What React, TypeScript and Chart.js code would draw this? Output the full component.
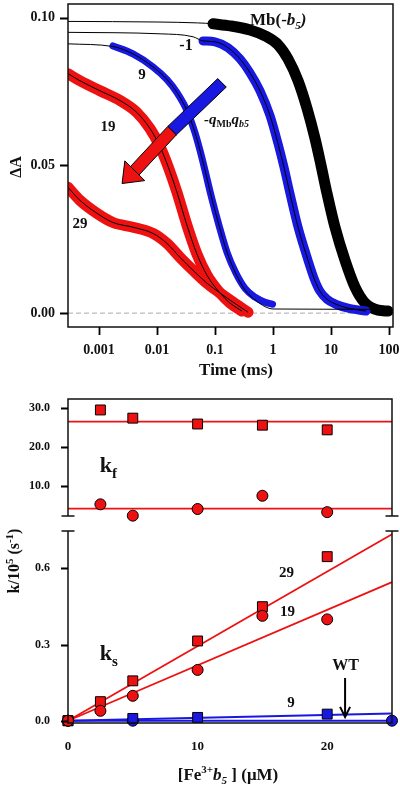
import React, { useEffect, useRef } from "react";
import { Chart, registerables } from "chart.js";
Chart.register(...registerables);

const SERIF = '"Liberation Serif", "Times New Roman", Times, serif';
const INK = "#111111";
const RED = "#ee1111";
const BLUE = "#1818e0";

// ---------- Top panel: transients (time in ms, deltaA) ----------
const TIME_TICKS = [0.001, 0.01, 0.1, 1, 10, 100];
const DA_TICKS = [0, 0.05, 0.1];

// Mb(-b5)
const mbTime = [0.0925, 0.1815, 0.401, 0.728, 1.22, 1.81, 2.7, 3.86, 5.3, 6.73, 8.53, 11.7, 17.4, 25.9, 38.6, 64.6, 96];
const mbDA = [0.098, 0.0973, 0.0959, 0.0939, 0.0909, 0.0861, 0.0787, 0.0693, 0.0591, 0.05, 0.0405, 0.0291, 0.0179, 0.0088, 0.0034, 0.001, 0.0007];
const mbLeadTime = [0.000292, 0.01, 0.05];
const mbLeadDA = [0.0988, 0.0986, 0.0983];

// -1
const m1Time = [0.0621, 0.1, 0.1675, 0.27, 0.401, 0.597, 0.888, 1.22, 1.55, 1.96, 2.7, 4.01, 5.09, 6.46, 8.53, 12.2, 19.6, 40.1];
const m1DA = [0.0922, 0.0919, 0.0899, 0.0861, 0.0814, 0.0753, 0.0669, 0.0574, 0.0493, 0.0405, 0.0291, 0.0179, 0.0118, 0.0074, 0.0047, 0.003, 0.0017, 0.0007];
const m1LeadTime = [0.000292, 0.0113, 0.0418];
const m1LeadDA = [0.0951, 0.0946, 0.0936];

// 9
const n9Time = [0.00174, 0.00385, 0.00853, 0.01486, 0.0221, 0.0329, 0.0452, 0.0551, 0.0673, 0.0853, 0.1172, 0.161, 0.23, 0.329, 0.49, 0.728, 0.98];
const n9DA = [0.0905, 0.0878, 0.0834, 0.0791, 0.0747, 0.0686, 0.0611, 0.0551, 0.0483, 0.0399, 0.0297, 0.0206, 0.0135, 0.0084, 0.0054, 0.0037, 0.003];
const n9FitTime = [0.000292, 0.00174, 0.00385, 0.00853, 0.01486, 0.0221, 0.0329, 0.0452, 0.0551, 0.0673, 0.0853, 0.1172, 0.161, 0.23, 0.329, 0.49, 0.728, 1, 100];
const n9FitDA = [0.0912, 0.0903, 0.0878, 0.0834, 0.0791, 0.0747, 0.0686, 0.0611, 0.0551, 0.0483, 0.0399, 0.0297, 0.0206, 0.0132, 0.0078, 0.0045, 0.0022, 0.0014, 0.0013];

// 19
const r19Time = [0.000292, 0.00047, 0.00104, 0.0023, 0.00452, 0.00757, 0.01127, 0.01548, 0.0221, 0.0329, 0.049, 0.0728, 0.122, 0.1815, 0.292];
const r19DA = [0.0811, 0.0787, 0.0753, 0.072, 0.0679, 0.0625, 0.0564, 0.0497, 0.0409, 0.0297, 0.0199, 0.0128, 0.0068, 0.0034, 0.0007];

// 29
const r29Time = [0.000292, 0.00047, 0.000924, 0.00174, 0.00385, 0.00853, 0.01486, 0.0249, 0.0418, 0.0728, 0.122, 0.1815, 0.371];
const r29DA = [0.0426, 0.0382, 0.0338, 0.0307, 0.0291, 0.027, 0.0236, 0.0189, 0.0145, 0.0101, 0.0068, 0.0044, 0.0003];

// ---------- Middle panel: k_f ----------
const KF_CONC = [2.5, 5, 10, 15, 20];
const kf29 = [29.5, 27.4, 25.9, 25.6, 24.4];
const kf19 = [5.3, 2.4, 4.1, 7.5, 3.3];
const KF_TICKS = [10, 20, 30];

// ---------- Bottom panel: k_s ----------
const KS_CONC = [0, 2.5, 5, 10, 15, 20];
const ks29 = [0, 0.075, 0.157, 0.314, 0.449, 0.646];
const ks19 = [0, 0.039, 0.098, 0.2, 0.413, 0.399];
const KS9_CONC = [0, 5, 10, 20];
const ks9 = [0, 0.009, 0.013, 0.026];
const WT_CONC = [0, 5, 25];
const ksWT = [0, 0, 0];
const KS_TICKS = [0, 0.3, 0.6];
const CONC_TICKS = [0, 10, 20];

// fitted lines (end points)
const FIT_CONC = [0, 25];
const kfLine29 = [26.5, 26.5];
const kfLine19 = [4.2, 4.2];
const fit29 = [0, 0.734];
const fit19 = [0, 0.546];
const fit9 = [0, 0.028];
const fitWT = [0, 0];

// ---------- helpers ----------
type Seg = { t: string; s: number; i?: boolean; dy?: number };
const font = (size: number, italic = false) => `${italic ? "italic " : ""}bold ${size}px ${SERIF}`;
const tickFont = (size: number) => ({ family: SERIF, size, weight: "bold" as const });
const xy = (xs: number[], ys: number[]) => xs.map((x, i) => ({ x, y: ys[i] }));

function rich(ctx: CanvasRenderingContext2D, segs: Seg[], x: number, y: number, align = "left", rot = 0) {
  ctx.save();
  ctx.translate(x, y);
  if (rot) ctx.rotate(rot);
  ctx.fillStyle = INK;
  ctx.textBaseline = "alphabetic";
  ctx.textAlign = "left";
  let w = 0;
  for (const g of segs) {
    ctx.font = font(g.s, g.i);
    w += ctx.measureText(g.t).width;
  }
  let cx = align === "center" ? -w / 2 : 0;
  for (const g of segs) {
    ctx.font = font(g.s, g.i);
    ctx.fillText(g.t, cx, g.dy || 0);
    cx += ctx.measureText(g.t).width;
  }
  ctx.restore();
}

// outward tick marks at the axis' tick values
function tickMarks(ctx: CanvasRenderingContext2D, scale: any, vals: number[], len: number, edge: number, vertical: boolean) {
  ctx.save();
  ctx.strokeStyle = "#000";
  ctx.lineWidth = 1.8;
  ctx.setLineDash([]);
  ctx.beginPath();
  for (const v of vals) {
    const p = Math.round(scale.getPixelForValue(v)) + 0.5;
    if (vertical) {
      ctx.moveTo(edge - len, p);
      ctx.lineTo(edge, p);
    } else {
      ctx.moveTo(p, edge);
      ctx.lineTo(p, edge + len);
    }
  }
  ctx.stroke();
  ctx.restore();
}

const fixY = (w: number) => (s: any) => {
  s.width = w;
  s.paddingTop = 0;
  s.paddingBottom = 0;
};
const fixX = (h: number) => (s: any) => {
  s.height = h;
  s.paddingLeft = 0;
  s.paddingRight = 0;
};
const setTicks = (vals: number[]) => (s: any) => {
  s.ticks = vals.map((v) => ({ value: v }));
};

const fitDs = (data: any[]) => ({
  data,
  showLine: true,
  borderColor: "#000",
  borderWidth: 1,
  pointRadius: 0,
  cubicInterpolationMode: "monotone",
});
const bandDs = (data: any[], color: string, width: number, pr = 0) => ({
  data,
  showLine: true,
  borderColor: color,
  borderWidth: width,
  pointRadius: pr,
  pointBackgroundColor: color,
  pointBorderWidth: 0,
  borderCapStyle: "round",
  borderJoinStyle: "round",
  cubicInterpolationMode: "monotone",
});
const markDs = (data: any[], color: string, style: string, r: number) => ({
  data,
  showLine: false,
  pointStyle: style,
  pointRadius: r,
  pointBackgroundColor: color,
  pointBorderColor: "#000",
  pointBorderWidth: 1,
  clip: false,
});
const lineDs = (data: any[], color: string, w: number) => ({
  data,
  showLine: true,
  borderColor: color,
  borderWidth: w,
  pointRadius: 0,
  tension: 0,
  clip: false,
});

const baseOpts = (padding: any) => ({
  responsive: false,
  animation: false,
  devicePixelRatio: 1,
  layout: { padding },
  plugins: { legend: { display: false }, tooltip: { enabled: false } },
  events: [],
});

// ---------- plugins ----------
const topDecor = {
  id: "topDecor",
  beforeDatasetsDraw(chart: any) {
    const { ctx, chartArea: a, scales } = chart;
    const y0 = scales.y.getPixelForValue(0);
    ctx.save();
    ctx.strokeStyle = "#aaaaaa";
    ctx.lineWidth = 1;
    ctx.setLineDash([5, 3]);
    ctx.beginPath();
    ctx.moveTo(a.left, y0);
    ctx.lineTo(a.right, y0);
    ctx.stroke();
    ctx.restore();
  },
  afterDatasetsDraw(chart: any) {
    const { ctx, chartArea: a, scales } = chart;
    const X = (t: number) => scales.x.getPixelForValue(t);
    const Y = (v: number) => scales.y.getPixelForValue(v);
    ctx.save();
    // arrow
    const tail = [X(0.132), Y(0.078)];
    const mid = [X(0.01816), Y(0.0618)];
    const tip = [X(0.0025), Y(0.0439)];
    const dx = tip[0] - tail[0];
    const dy = tip[1] - tail[1];
    const L = Math.hypot(dx, dy);
    const ux = dx / L, uy = dy / L;
    const nx = -uy, ny = ux;
    const hw = 6, hl = 18, hh = 14;
    const base = [tip[0] - ux * hl, tip[1] - uy * hl];
    const quad = (p: number[], q: number[], fill: string) => {
      ctx.beginPath();
      ctx.moveTo(p[0] + nx * hw, p[1] + ny * hw);
      ctx.lineTo(q[0] + nx * hw, q[1] + ny * hw);
      ctx.lineTo(q[0] - nx * hw, q[1] - ny * hw);
      ctx.lineTo(p[0] - nx * hw, p[1] - ny * hw);
      ctx.closePath();
      ctx.fillStyle = fill;
      ctx.fill();
      ctx.strokeStyle = "#000";
      ctx.lineWidth = 1;
      ctx.stroke();
    };
    quad(tail, mid, BLUE);
    quad(mid, base, RED);
    ctx.beginPath();
    ctx.moveTo(base[0] + nx * hh, base[1] + ny * hh);
    ctx.lineTo(tip[0], tip[1]);
    ctx.lineTo(base[0] - nx * hh, base[1] - ny * hh);
    ctx.closePath();
    ctx.fillStyle = RED;
    ctx.fill();
    ctx.stroke();
    // frame
    ctx.strokeStyle = INK;
    ctx.lineWidth = 1.5;
    ctx.strokeRect(a.left, a.top, a.right - a.left, a.bottom - a.top);
    // labels
    rich(ctx, [{ t: "Mb(-", s: 17 }, { t: "b", s: 17, i: true }, { t: "5", s: 11, i: true, dy: 4 }, { t: ")", s: 17, i: true }], X(0.401), Y(0.0976));
    rich(ctx, [{ t: "-1", s: 16 }], X(0.0316), Y(0.0892), "center");
    rich(ctx, [{ t: "9", s: 15 }], X(0.00551), Y(0.0794), "center");
    rich(ctx, [{ t: "19", s: 15 }], X(0.00143), Y(0.0618), "center");
    rich(ctx, [{ t: "29", s: 15 }], X(0.00047), Y(0.0287), "center");
    rich(ctx, [{ t: "-q", s: 15, i: true }, { t: "Mb", s: 10, dy: 3 }, { t: "q", s: 15, i: true }, { t: "b5", s: 10, i: true, dy: 3 }], X(0.0646), Y(0.0642));
    // axis titles
    rich(ctx, [{ t: "Time (ms)", s: 17 }], 236, 375, "center");
    rich(ctx, [{ t: "\u0394A", s: 16 }], 21, 167, "center", -Math.PI / 2);
    ctx.restore();
  },
  afterDraw(chart: any) {
    const { ctx, chartArea: a, scales } = chart;
    tickMarks(ctx, scales.y, DA_TICKS, 8, a.left, true);
    tickMarks(ctx, scales.x, TIME_TICKS, 8, a.bottom, false);
  },
};

const midDecor = {
  id: "midDecor",
  afterDatasetsDraw(chart: any) {
    const { ctx, chartArea: a, scales } = chart;
    ctx.save();
    ctx.strokeStyle = INK;
    ctx.lineWidth = 1.5;
    ctx.beginPath();
    ctx.moveTo(a.left, a.bottom);
    ctx.lineTo(a.left, a.top);
    ctx.lineTo(a.right, a.top);
    ctx.lineTo(a.right, a.bottom);
    ctx.moveTo(a.left - 6.5, a.bottom);
    ctx.lineTo(a.left + 6.5, a.bottom);
    ctx.moveTo(a.right - 6.5, a.bottom);
    ctx.lineTo(a.right + 6.5, a.bottom);
    ctx.stroke();
    rich(ctx, [{ t: "k", s: 22 }, { t: "f", s: 15, dy: 6 }], scales.x.getPixelForValue(2.45), scales.y.getPixelForValue(13.6));
    ctx.restore();
  },
  afterDraw(chart: any) {
    const { ctx, chartArea: a, scales } = chart;
    tickMarks(ctx, scales.y, KF_TICKS, 7, a.left, true);
  },
};

const botDecor = {
  id: "botDecor",
  afterDatasetsDraw(chart: any) {
    const { ctx, chartArea: a, scales } = chart;
    const X = (c: number) => scales.x.getPixelForValue(c);
    const Y = (v: number) => scales.y.getPixelForValue(v);
    ctx.save();
    ctx.strokeStyle = INK;
    ctx.lineWidth = 1.5;
    ctx.beginPath();
    ctx.moveTo(a.left, a.top);
    ctx.lineTo(a.left, a.bottom);
    ctx.lineTo(a.right, a.bottom);
    ctx.lineTo(a.right, a.top);
    ctx.moveTo(a.left - 6.5, a.top);
    ctx.lineTo(a.left + 6.5, a.top);
    ctx.moveTo(a.right - 6.5, a.top);
    ctx.lineTo(a.right + 6.5, a.top);
    ctx.stroke();
    // WT arrow
    const ax = X(21.38);
    const ay0 = Y(0.168);
    const ay1 = Y(0.015);
    ctx.strokeStyle = "#000";
    ctx.lineWidth = 2;
    ctx.beginPath();
    ctx.moveTo(ax, ay0);
    ctx.lineTo(ax, ay1);
    ctx.moveTo(ax - 5, ay1 - 10);
    ctx.lineTo(ax, ay1);
    ctx.lineTo(ax + 5, ay1 - 10);
    ctx.stroke();
    rich(ctx, [{ t: "k", s: 22 }, { t: "s", s: 15, dy: 6 }], X(2.45), Y(0.239));
    rich(ctx, [{ t: "29", s: 15 }], X(16.86), Y(0.566), "center");
    rich(ctx, [{ t: "19", s: 15 }], X(16.93), Y(0.412), "center");
    rich(ctx, [{ t: "WT", s: 16 }], X(21.42), Y(0.2), "center");
    rich(ctx, [{ t: "9", s: 15 }], X(17.2), Y(0.054), "center");
    // axis titles
    rich(ctx, [{ t: "[Fe", s: 17 }, { t: "3+", s: 11, dy: -7 }, { t: "b", s: 17, i: true }, { t: "5", s: 11, i: true, dy: 4 }, { t: " ] (\u03bcM)", s: 17 }], 228, 780, "center");
    rich(ctx, [{ t: "k/10", s: 16 }, { t: "5", s: 11, dy: -6 }, { t: " (s", s: 16 }, { t: "-1", s: 11, dy: -6 }, { t: ")", s: 16 }], 19, 561, "center", -Math.PI / 2);
    ctx.restore();
  },
  afterDraw(chart: any) {
    const { ctx, chartArea: a, scales } = chart;
    tickMarks(ctx, scales.y, KS_TICKS, 7, a.left, true);
  },
};

const hiddenGrid = (len: number) => ({ display: true, drawOnChartArea: false, drawTicks: true, tickLength: len, color: "rgba(0,0,0,0)", tickColor: "rgba(0,0,0,0)" });

function topConfig(): any {
  const mbFit = xy([...mbLeadTime, ...mbTime], [...mbLeadDA, ...mbDA]);
  const m1Fit = xy([...m1LeadTime, ...m1Time], [...m1LeadDA, ...m1DA]);
  return {
    type: "scatter",
    data: {
      datasets: [
        fitDs(mbFit),
        fitDs(m1Fit),
        fitDs(xy(n9FitTime, n9FitDA)),
        fitDs(xy(r19Time, r19DA)),
        fitDs(xy(r29Time, r29DA)),
        bandDs(xy(n9Time, n9DA), BLUE, 7, 2.8),
        bandDs(xy(r19Time, r19DA), RED, 11),
        bandDs(xy(r29Time, r29DA), RED, 11),
        bandDs(xy(m1Time, m1DA), BLUE, 9),
        bandDs(xy(mbTime, mbDA), "#000", 11),
      ],
    },
    options: {
      ...baseOpts({ left: 8, right: 7, top: 3, bottom: 410 }),
      scales: {
        x: {
          type: "logarithmic",
          min: 0.000292,
          max: 117,
          afterBuildTicks: setTicks(TIME_TICKS),
          afterFit: fixX(50),
          ticks: { callback: (v: number) => String(v), font: tickFont(14), color: INK, padding: 7, maxRotation: 0, autoSkip: false },
          grid: hiddenGrid(8),
          border: { display: false },
        },
        y: {
          type: "linear",
          min: -0.0047,
          max: 0.1047,
          afterBuildTicks: setTicks(DA_TICKS),
          afterFit: fixY(60),
          ticks: { callback: (v: number) => v.toFixed(2), font: tickFont(14), color: INK, padding: 5 },
          grid: hiddenGrid(8),
          border: { display: false },
        },
      },
    },
    plugins: [topDecor],
  };
}

function midConfig(): any {
  return {
    type: "scatter",
    data: {
      datasets: [
        markDs(xy(KF_CONC, kf19), RED, "circle", 5.5),
        markDs(xy(KF_CONC, kf29), RED, "rect", 7),
        lineDs(xy(FIT_CONC, kfLine29), RED, 1.8),
        lineDs(xy(FIT_CONC, kfLine19), RED, 1.8),
      ],
    },
    options: {
      ...baseOpts({ left: 8, right: 7, top: 399, bottom: 271 }),
      scales: {
        x: { type: "linear", min: 0, max: 25, display: false },
        y: {
          type: "linear",
          min: 2.31,
          max: 32.31,
          afterBuildTicks: setTicks(KF_TICKS),
          afterFit: fixY(60),
          ticks: { callback: (v: number) => v.toFixed(1), font: tickFont(12), color: INK, padding: 11 },
          grid: hiddenGrid(7),
          border: { display: false },
        },
      },
    },
    plugins: [midDecor],
  };
}

function botConfig(): any {
  return {
    type: "scatter",
    data: {
      datasets: [
        markDs(xy(KS_CONC, ks19), RED, "circle", 5.5),
        markDs(xy(KS_CONC, ks29), RED, "rect", 7),
        markDs(xy(KS9_CONC, ks9), BLUE, "rect", 7),
        markDs(xy(WT_CONC, ksWT), BLUE, "circle", 5.5),
        lineDs(xy(FIT_CONC, fit29), RED, 1.8),
        lineDs(xy(FIT_CONC, fit19), RED, 1.8),
        lineDs(xy(FIT_CONC, fit9), BLUE, 2),
        lineDs(xy(FIT_CONC, fitWT), BLUE, 2),
      ],
    },
    options: {
      ...baseOpts({ left: 8, right: 7, top: 531, bottom: 24 }),
      scales: {
        x: {
          type: "linear",
          min: 0,
          max: 25,
          afterBuildTicks: setTicks(CONC_TICKS),
          afterFit: fixX(40),
          ticks: { callback: (v: number) => String(v), font: tickFont(13), color: INK, padding: 16, maxRotation: 0, autoSkip: false },
          grid: { display: false, drawTicks: false },
          border: { display: false },
        },
        y: {
          type: "linear",
          min: -0.009,
          max: 0.747,
          afterBuildTicks: setTicks(KS_TICKS),
          afterFit: fixY(60),
          ticks: { callback: (v: number) => v.toFixed(1), font: tickFont(12), color: INK, padding: 11 },
          grid: hiddenGrid(7),
          border: { display: false },
        },
      },
    },
    plugins: [botDecor],
  };
}

export default function App() {
  const r1 = useRef<HTMLCanvasElement>(null);
  const r2 = useRef<HTMLCanvasElement>(null);
  const r3 = useRef<HTMLCanvasElement>(null);
  useEffect(() => {
    const charts = [
      new Chart(r1.current as HTMLCanvasElement, topConfig()),
      new Chart(r2.current as HTMLCanvasElement, midConfig()),
      new Chart(r3.current as HTMLCanvasElement, botConfig()),
    ];
    return () => charts.forEach((c) => c.destroy());
  }, []);
  const cs: React.CSSProperties = { position: "absolute", left: 0, top: 0, width: 400, height: 787 };
  return (
    <div style={{ position: "absolute", left: 0, top: 0, width: 400, height: 787, background: "#fff", overflow: "hidden" }}>
      <canvas ref={r1} width={400} height={787} style={cs} />
      <canvas ref={r2} width={400} height={787} style={cs} />
      <canvas ref={r3} width={400} height={787} style={cs} />
    </div>
  );
}
